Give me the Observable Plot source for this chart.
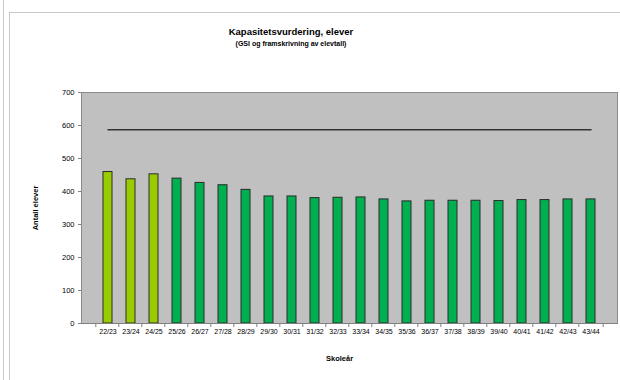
<!DOCTYPE html>
<html>
<head>
<meta charset="utf-8">
<script src="https://cdn.jsdelivr.net/npm/d3@7"></script>
<script src="https://cdn.jsdelivr.net/npm/@observablehq/plot@0.6"></script>
<style>
  html, body { margin: 0; padding: 0; background: #fff; overflow: hidden; }
  #wrap { position: relative; width: 620px; height: 380px; overflow: hidden; font-family: "Liberation Sans", Arial, sans-serif; }
  #frame1 { position: absolute; left: 3px; top: 0; width: 0; height: 380px; border-left: 1px solid #c8c8c8; }
  #frame2 { position: absolute; left: 9px; top: 12px; width: 620px; height: 380px; border-left: 1px solid #c8c8c8; border-top: 1px solid #c8c8c8; }
  #chart { position: absolute; left: 0; top: 0; width: 620px; height: 380px; }
  #chart svg { width: 620px !important; height: 380px !important; max-width: none !important; }
  .title { position: absolute; left: 191px; width: 200px; text-align: center; font-weight: bold; color: #000; white-space: nowrap; }
  #t1 { top: 26px; font-size: 9.5px; }
  #t2 { top: 40px; font-size: 7px; }
</style>
</head>
<body>
<div id="wrap">
  <div id="frame1"></div>
  <div id="frame2"></div>
  <div id="chart"></div>
  <div class="title" id="t1">Kapasitetsvurdering, elever</div>
  <div class="title" id="t2">(GSI og framskrivning av elevtall)</div>
</div>
<script>
const skolear = ["22/23","23/24","24/25","25/26","26/27","27/28","28/29","29/30","30/31","31/32","32/33","33/34","34/35","35/36","36/37","37/38","38/39","39/40","40/41","41/42","42/43","43/44"];
const elever = [459, 437, 452, 439, 426, 419, 405, 385, 385, 380, 381, 382, 376, 370, 372, 372, 372, 371, 374, 374, 376, 376];
const kilde = ["GSI","GSI","GSI","Framskrivning","Framskrivning","Framskrivning","Framskrivning","Framskrivning","Framskrivning","Framskrivning","Framskrivning","Framskrivning","Framskrivning","Framskrivning","Framskrivning","Framskrivning","Framskrivning","Framskrivning","Framskrivning","Framskrivning","Framskrivning","Framskrivning"];
const kapasitet = 587;
const yTicks = [0, 100, 200, 300, 400, 500, 600, 700];

const data = skolear.map((s, i) => ({skolear: s, elever: elever[i], kilde: kilde[i], kapasitet}));

const W = 620, ML = 81, MR = 3;
const halfStep = (W - ML - MR) / skolear.length / 2;

const chart = Plot.plot({
  width: W,
  height: 380,
  marginLeft: ML,
  marginRight: MR,
  marginTop: 92,
  marginBottom: 57,
  style: {fontFamily: "'Liberation Sans', Arial, sans-serif", fontSize: "7px", color: "#000", background: "transparent"},
  x: {domain: skolear, padding: 0.62, align: 0.5},
  y: {domain: [0, 700]},
  color: {domain: ["GSI", "Framskrivning"], range: ["#99cc00", "#00b050"]},
  marks: [
    Plot.frame({fill: "#c0c0c0", stroke: "#8c8c8c", strokeWidth: 1}),
    Plot.barY(data, {x: "skolear", y: "elever", fill: "kilde", stroke: "#2a2a2a", strokeWidth: 1}),
    Plot.line(data, {x: "skolear", y: "kapasitet", stroke: "#333", strokeWidth: 1.5}),
    Plot.ruleY([0], {stroke: "#808080"}),
    // band-boundary tick marks below the x axis
    Plot.ruleX(skolear, {x: d => d, y1: 0, y2: 0, insetBottom: -4, dx: -halfStep, stroke: "#808080"}),
    Plot.ruleX(skolear.slice(-1), {x: d => d, y1: 0, y2: 0, insetBottom: -4, dx: halfStep, stroke: "#808080"}),
    Plot.axisY({ticks: yTicks, tickSize: 3, tickPadding: 4, stroke: "#808080", label: "Antall elever", labelAnchor: "center", labelArrow: "none", labelOffset: 49, fontSize: 7.5}),
    Plot.ruleX([0], {x: 0, stroke: "#808080"}),
    Plot.axisX({tickSize: 0, tickPadding: 6, label: null, fontSize: 7}),
    Plot.text(["Skoleår"], {frameAnchor: "bottom", dy: 37, dx: -10, fontWeight: "bold", fontSize: 7.5})
  ]
});
chart.querySelectorAll("[aria-label='y-axis label'] text").forEach(t => t.setAttribute("font-weight", "bold"));
document.getElementById("chart").appendChild(chart);
</script>
</body>
</html>
